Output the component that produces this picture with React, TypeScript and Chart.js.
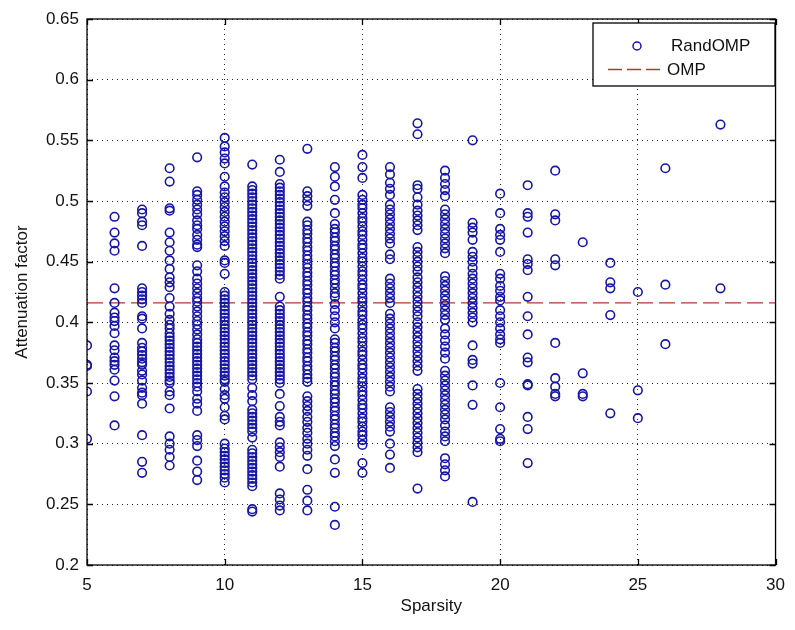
import React, { useEffect, useRef } from "react";
import { Chart, registerables } from "chart.js";

Chart.register(...registerables);

// ---- Data: attenuation factor values per sparsity level ----
const s5 = [0.381, 0.365, 0.364, 0.343, 0.304];
const s6 = [0.487, 0.474, 0.465, 0.459, 0.428, 0.416, 0.408, 0.404, 0.401, 0.397, 0.391, 0.381, 0.377, 0.371, 0.368, 0.365, 0.361, 0.352, 0.339, 0.315];
const s7 = [0.493, 0.49, 0.483, 0.48, 0.463, 0.428, 0.425, 0.422, 0.419, 0.416, 0.405, 0.403, 0.395, 0.383, 0.379, 0.376, 0.373, 0.37, 0.367, 0.365, 0.36, 0.357, 0.352, 0.346, 0.342, 0.34, 0.333, 0.307, 0.285, 0.276];
const s8 = [0.527, 0.516, 0.494, 0.492, 0.474, 0.466, 0.459, 0.451, 0.444, 0.437, 0.433, 0.429, 0.42, 0.413, 0.407, 0.402, 0.398, 0.395, 0.391, 0.388, 0.385, 0.382, 0.379, 0.376, 0.373, 0.37, 0.367, 0.364, 0.361, 0.358, 0.355, 0.352, 0.35, 0.343, 0.34, 0.329, 0.306, 0.3, 0.295, 0.289, 0.282];
const s9 = [0.536, 0.508, 0.505, 0.501, 0.497, 0.493, 0.489, 0.484, 0.48, 0.477, 0.472, 0.468, 0.464, 0.462, 0.447, 0.442, 0.436, 0.432, 0.428, 0.424, 0.42, 0.417, 0.413, 0.409, 0.405, 0.401, 0.398, 0.394, 0.39, 0.386, 0.383, 0.38, 0.377, 0.374, 0.371, 0.368, 0.365, 0.362, 0.359, 0.356, 0.353, 0.35, 0.347, 0.343, 0.337, 0.333, 0.327, 0.307, 0.303, 0.298, 0.286, 0.277, 0.27];
const s10 = [0.552, 0.545, 0.54, 0.535, 0.531, 0.52, 0.512, 0.507, 0.503, 0.499, 0.495, 0.491, 0.487, 0.483, 0.479, 0.475, 0.471, 0.467, 0.463, 0.451, 0.449, 0.44, 0.425, 0.422, 0.419, 0.416, 0.413, 0.41, 0.407, 0.404, 0.401, 0.398, 0.395, 0.392, 0.389, 0.386, 0.383, 0.38, 0.377, 0.374, 0.371, 0.368, 0.365, 0.362, 0.359, 0.356, 0.353, 0.351, 0.345, 0.34, 0.337, 0.33, 0.323, 0.32, 0.3, 0.296, 0.293, 0.29, 0.287, 0.284, 0.281, 0.278, 0.275, 0.272, 0.268];
const s11 = [0.53, 0.512, 0.509, 0.506, 0.503, 0.5, 0.497, 0.494, 0.491, 0.488, 0.485, 0.482, 0.479, 0.476, 0.473, 0.47, 0.467, 0.464, 0.461, 0.458, 0.455, 0.452, 0.449, 0.446, 0.443, 0.44, 0.437, 0.434, 0.431, 0.428, 0.425, 0.422, 0.419, 0.416, 0.413, 0.41, 0.407, 0.404, 0.401, 0.398, 0.395, 0.392, 0.389, 0.386, 0.383, 0.38, 0.377, 0.374, 0.371, 0.368, 0.365, 0.362, 0.359, 0.356, 0.353, 0.346, 0.34, 0.335, 0.328, 0.325, 0.322, 0.319, 0.316, 0.313, 0.31, 0.305, 0.295, 0.292, 0.289, 0.286, 0.283, 0.28, 0.277, 0.274, 0.271, 0.268, 0.265, 0.246, 0.244];
const s12 = [0.534, 0.524, 0.514, 0.511, 0.508, 0.505, 0.502, 0.499, 0.496, 0.493, 0.49, 0.487, 0.484, 0.481, 0.478, 0.475, 0.472, 0.469, 0.466, 0.463, 0.46, 0.457, 0.454, 0.451, 0.448, 0.445, 0.442, 0.439, 0.436, 0.421, 0.413, 0.41, 0.407, 0.404, 0.401, 0.398, 0.395, 0.392, 0.389, 0.386, 0.383, 0.38, 0.377, 0.374, 0.371, 0.368, 0.365, 0.362, 0.359, 0.356, 0.353, 0.35, 0.341, 0.331, 0.322, 0.318, 0.315, 0.301, 0.297, 0.293, 0.289, 0.281, 0.259, 0.254, 0.249, 0.245];
const s13 = [0.543, 0.508, 0.504, 0.5, 0.496, 0.483, 0.48, 0.476, 0.473, 0.469, 0.466, 0.462, 0.459, 0.455, 0.452, 0.448, 0.445, 0.441, 0.438, 0.434, 0.431, 0.427, 0.424, 0.42, 0.417, 0.413, 0.41, 0.406, 0.403, 0.399, 0.396, 0.392, 0.389, 0.385, 0.382, 0.378, 0.375, 0.371, 0.368, 0.364, 0.361, 0.357, 0.354, 0.351, 0.339, 0.335, 0.331, 0.327, 0.322, 0.318, 0.313, 0.309, 0.304, 0.3, 0.295, 0.29, 0.279, 0.262, 0.253, 0.245];
const s14 = [0.528, 0.52, 0.512, 0.501, 0.49, 0.481, 0.477, 0.474, 0.47, 0.467, 0.463, 0.46, 0.456, 0.453, 0.449, 0.446, 0.442, 0.439, 0.435, 0.432, 0.428, 0.424, 0.421, 0.415, 0.41, 0.405, 0.4, 0.395, 0.386, 0.383, 0.379, 0.376, 0.372, 0.369, 0.365, 0.362, 0.358, 0.355, 0.351, 0.348, 0.344, 0.341, 0.337, 0.334, 0.33, 0.327, 0.323, 0.32, 0.316, 0.313, 0.309, 0.306, 0.302, 0.298, 0.287, 0.276, 0.248, 0.233];
const s15 = [0.538, 0.528, 0.519, 0.505, 0.501, 0.497, 0.494, 0.49, 0.486, 0.483, 0.479, 0.475, 0.472, 0.468, 0.464, 0.461, 0.457, 0.453, 0.45, 0.446, 0.442, 0.439, 0.435, 0.431, 0.428, 0.424, 0.42, 0.417, 0.413, 0.409, 0.406, 0.402, 0.398, 0.395, 0.391, 0.387, 0.384, 0.38, 0.376, 0.373, 0.369, 0.365, 0.362, 0.358, 0.354, 0.351, 0.347, 0.343, 0.34, 0.336, 0.332, 0.329, 0.325, 0.321, 0.318, 0.314, 0.31, 0.307, 0.303, 0.299, 0.284, 0.276];
const s16 = [0.528, 0.522, 0.515, 0.51, 0.505, 0.497, 0.493, 0.489, 0.485, 0.481, 0.477, 0.473, 0.469, 0.465, 0.456, 0.452, 0.436, 0.432, 0.428, 0.424, 0.42, 0.416, 0.407, 0.403, 0.399, 0.395, 0.391, 0.387, 0.383, 0.379, 0.375, 0.371, 0.367, 0.363, 0.359, 0.355, 0.351, 0.347, 0.343, 0.33, 0.326, 0.322, 0.318, 0.314, 0.31, 0.3, 0.291, 0.28];
const s17 = [0.564, 0.555, 0.513, 0.51, 0.503, 0.497, 0.492, 0.488, 0.484, 0.48, 0.476, 0.462, 0.458, 0.454, 0.45, 0.446, 0.442, 0.437, 0.433, 0.429, 0.425, 0.421, 0.417, 0.413, 0.409, 0.405, 0.4, 0.396, 0.392, 0.388, 0.384, 0.38, 0.376, 0.372, 0.368, 0.364, 0.36, 0.345, 0.341, 0.337, 0.333, 0.329, 0.325, 0.321, 0.317, 0.313, 0.309, 0.305, 0.301, 0.297, 0.293, 0.263];
const s18 = [0.525, 0.519, 0.514, 0.509, 0.504, 0.493, 0.489, 0.485, 0.481, 0.477, 0.473, 0.469, 0.465, 0.461, 0.457, 0.438, 0.434, 0.43, 0.426, 0.422, 0.418, 0.414, 0.41, 0.406, 0.402, 0.395, 0.39, 0.385, 0.38, 0.375, 0.37, 0.36, 0.356, 0.352, 0.348, 0.344, 0.34, 0.336, 0.332, 0.328, 0.324, 0.32, 0.315, 0.31, 0.306, 0.302, 0.288, 0.283, 0.278, 0.273];
const s19 = [0.55, 0.482, 0.478, 0.474, 0.468, 0.458, 0.454, 0.45, 0.445, 0.44, 0.436, 0.432, 0.428, 0.424, 0.42, 0.416, 0.412, 0.408, 0.404, 0.4, 0.381, 0.369, 0.366, 0.348, 0.332, 0.252];
const s20 = [0.506, 0.49, 0.477, 0.472, 0.468, 0.458, 0.44, 0.436, 0.43, 0.426, 0.421, 0.418, 0.41, 0.405, 0.4, 0.395, 0.39, 0.386, 0.383, 0.35, 0.33, 0.312, 0.304, 0.302];
const s21 = [0.513, 0.49, 0.487, 0.474, 0.452, 0.448, 0.443, 0.421, 0.405, 0.39, 0.371, 0.367, 0.349, 0.348, 0.322, 0.312, 0.284];
const s22 = [0.525, 0.489, 0.484, 0.452, 0.447, 0.383, 0.354, 0.347, 0.341, 0.339];
const s23 = [0.466, 0.358, 0.341, 0.339];
const s24 = [0.449, 0.433, 0.428, 0.406, 0.325];
const s25 = [0.425, 0.344, 0.321];
const s26 = [0.527, 0.431, 0.382];
const s28 = [0.563, 0.428];

const sparsityLevels = [5, 6, 7, 8, 9, 10, 11, 12, 13, 14, 15, 16, 17, 18, 19, 20, 21, 22, 23, 24, 25, 26, 28];
const columns = [s5, s6, s7, s8, s9, s10, s11, s12, s13, s14, s15, s16, s17, s18, s19, s20, s21, s22, s23, s24, s25, s26, s28];

const ompValue = 0.416;
const xRange = [5, 30];
const yRange = [0.2, 0.65];
const xTicks = [5, 10, 15, 20, 25, 30];
const yTicks = [0.2, 0.25, 0.3, 0.35, 0.4, 0.45, 0.5, 0.55, 0.6, 0.65];
const seriesNames = ["RandOMP", "OMP"];
const xLabel = "Sparsity";
const yLabel = "Attenuation factor";

const FONT = "'Liberation Sans', Arial, Helvetica, sans-serif";
const FS = 17;
const BLUE = "rgb(22,22,165)";
const RED = "rgb(180,55,55)";

const boxPlugin = {
  id: "matlabBox",
  afterDatasetsDraw(chart: any) {
    const { ctx, chartArea: a, scales } = chart;
    ctx.save();
    ctx.strokeStyle = "#000";
    ctx.lineWidth = 1.3;
    ctx.strokeRect(a.left, a.top, a.right - a.left, a.bottom - a.top);
    const tl = 6;
    ctx.beginPath();
    for (const t of xTicks) {
      const x = Math.round(scales.x.getPixelForValue(t)) + 0.5;
      ctx.moveTo(x, a.bottom); ctx.lineTo(x, a.bottom - tl);
      ctx.moveTo(x, a.top); ctx.lineTo(x, a.top + tl);
    }
    for (const t of yTicks) {
      const y = Math.round(scales.y.getPixelForValue(t)) + 0.5;
      ctx.moveTo(a.left, y); ctx.lineTo(a.left + tl, y);
      ctx.moveTo(a.right, y); ctx.lineTo(a.right - tl, y);
    }
    ctx.stroke();

    // legend
    const lx = 593, ly = 23, lw = 182, lh = 63;
    ctx.fillStyle = "#fff";
    ctx.fillRect(lx, ly, lw, lh);
    ctx.strokeStyle = "#000";
    ctx.lineWidth = 1.3;
    ctx.strokeRect(lx, ly, lw, lh);
    ctx.strokeStyle = BLUE;
    ctx.lineWidth = 1.5;
    ctx.beginPath();
    ctx.arc(637, 46, 4, 0, Math.PI * 2);
    ctx.stroke();
    ctx.strokeStyle = RED;
    ctx.lineWidth = 1.3;
    ctx.setLineDash([14, 5]);
    ctx.beginPath();
    ctx.moveTo(608, 69.5); ctx.lineTo(665, 69.5);
    ctx.stroke();
    ctx.setLineDash([]);
    ctx.fillStyle = "#111";
    ctx.font = `${FS}px ${FONT}`;
    ctx.textBaseline = "middle";
    ctx.textAlign = "left";
    ctx.fillText(seriesNames[0], 671, 46);
    ctx.fillText(seriesNames[1], 667, 70);
    ctx.restore();
  },
};

export default function App() {
  const ref = useRef<HTMLCanvasElement | null>(null);
  useEffect(() => {
    if (!ref.current) return;
    const points: { x: number; y: number }[] = [];
    sparsityLevels.forEach((s, i) => columns[i].forEach((v) => points.push({ x: s, y: v })));
    const chart = new Chart(ref.current, {
      type: "scatter",
      data: {
        datasets: [
          {
            label: seriesNames[0],
            data: points,
            pointStyle: "circle",
            pointRadius: 4.3,
            pointBorderWidth: 1.6,
            pointBackgroundColor: "rgba(0,0,0,0)",
            pointBorderColor: BLUE,
            showLine: false,
          },
          {
            label: seriesNames[1],
            data: [
              { x: xRange[0], y: ompValue },
              { x: xRange[1], y: ompValue },
            ],
            showLine: true,
            borderColor: RED,
            borderWidth: 1.3,
            borderDash: [16, 6],
            pointRadius: 0,
          },
        ],
      },
      options: {
        animation: false,
        responsive: false,
        layout: { padding: { left: 0, top: 19, right: 13, bottom: 0 } },
        plugins: { legend: { display: false }, tooltip: { enabled: false } },
        scales: {
          x: {
            type: "linear",
            min: xRange[0],
            max: xRange[1],
            afterBuildTicks: (s: any) => { s.ticks = xTicks.map((v) => ({ value: v })); },
            afterFit: (s: any) => { s.height = 65; },
            ticks: { color: "#111", font: { family: FONT, size: FS }, padding: 10, maxRotation: 0 },
            grid: { color: "rgba(0,0,0,0.85)", lineWidth: 1, drawTicks: false },
            border: { display: false, dash: [1, 4] },
            title: { display: true, text: xLabel, color: "#111", font: { family: FONT, size: FS }, padding: { top: 0, bottom: 13 } },
          },
          y: {
            type: "linear",
            min: yRange[0],
            max: yRange[1],
            afterBuildTicks: (s: any) => { s.ticks = yTicks.map((v) => ({ value: v })); },
            afterFit: (s: any) => { s.width = 87; },
            ticks: {
              color: "#111",
              font: { family: FONT, size: FS },
              padding: 8,
              callback: (v: any) => String(+Number(v).toFixed(2)),
            },
            grid: { color: "rgba(0,0,0,0.85)", lineWidth: 1, drawTicks: false },
            border: { display: false, dash: [1, 4] },
            title: { display: true, text: yLabel, color: "#111", font: { family: FONT, size: FS }, padding: { top: 12, bottom: 0 } },
          },
        },
      },
      plugins: [boxPlugin],
    });
    return () => chart.destroy();
  }, []);
  return (
    <div style={{ position: "absolute", left: 0, top: 0, width: 795, height: 630, background: "#fff" }}>
      <canvas ref={ref} width={795} height={630} style={{ width: 795, height: 630 }} />
    </div>
  );
}
